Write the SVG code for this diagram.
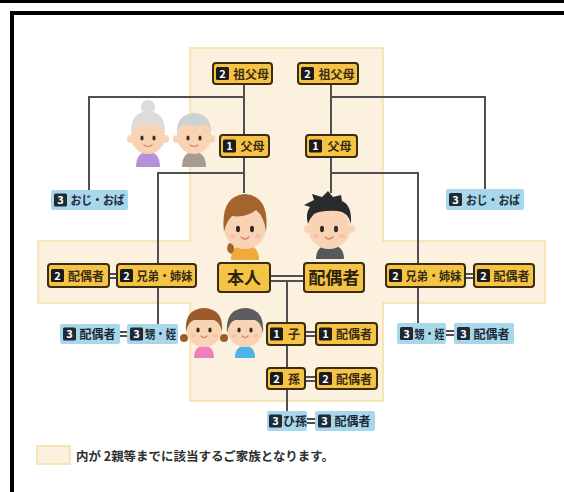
<svg xmlns="http://www.w3.org/2000/svg" width="564" height="492" viewBox="0 0 564 492">
  <style>
    .lbl { font-family: "Noto Sans CJK JP", "Noto Sans", sans-serif; font-weight: 700; }
    .yb { fill: #f5c445; stroke: #3a2b12; stroke-width: 2; }
    .bb { fill: #a8d7eb; }
    .badge { fill: #1b1b1b; }
    .bbadge { fill: #1e2a35; }
    .num { fill: #ffffff; font-size: 11px; text-anchor: middle; }
    .yt { fill: #3a2b12; font-size: 12px; text-anchor: middle; }
    .bt { fill: #1c2a36; font-size: 12px; text-anchor: middle; }
    .big { fill: #2e220d; font-size: 17px; text-anchor: middle; }
    .ln { fill: none; stroke: #4f4f4f; stroke-width: 2; }
    .skin { fill: #f8d3b4; }
    .eye { fill: #3a2a20; }
    .cheek { fill: #f6b6a4; opacity: 0.7; }
    .mouth { fill: none; stroke: #d9826a; stroke-width: 1.2; stroke-linecap: round; }
  </style>

  <!-- frame -->
  <rect x="0" y="0" width="564" height="3" fill="#000"/>
  <rect x="10" y="11" width="554" height="4" fill="#000"/>
  <rect x="10" y="11" width="4" height="481" fill="#000"/>

  <!-- area covered up to the 2nd degree -->
  <path d="M190,48 H383 V241 H545 V303 H383 V401 H190 V303 H38 V241 H190 Z" fill="#fcf1de" stroke="#f4dea6" stroke-width="1.5"/>

  <!-- connectors -->
  <g id="connectors" class="ln">
    <path d="M244,84 V135 M244,97 H89 V190 M244,157 V193 M244,173 H158 V324"/>
    <path d="M331,84 V135 M331,97 H485 V189 M331,157 V193 M331,173 H418 V323"/>
    <path d="M109,274 H117 M109,278 H117"/>
    <path d="M120,332 H127 M120,336 H127"/>
    <path d="M465,274 H474 M465,278 H474"/>
    <path d="M446,331 H454 M446,335 H454"/>
    <path d="M270,276 H304 M270,281 H304"/>
    <path d="M287,281 V411"/>
    <path d="M305,332 H316 M305,336 H316"/>
    <path d="M305,377 H316 M305,381 H316"/>
    <path d="M307,419 H315 M307,423 H315"/>
  </g>

  <!-- people -->
  <g id="grandmother">
    <path d="M136,167 Q136,152 148,152 Q160,152 160,167 Z" fill="#b592d8"/>
    <circle cx="131" cy="139" r="4" class="skin"/>
    <circle cx="165" cy="139" r="4" class="skin"/>
    <circle cx="148" cy="137" r="17" class="skin"/>
    <path d="M131,134 Q130,112 148,111 Q166,112 165,134 Q160,124 148,124 Q136,124 131,134 Z" fill="#dcdcdc"/>
    <circle cx="148" cy="107" r="7" fill="#dcdcdc"/>
    <ellipse cx="142" cy="138" rx="1.6" ry="2.6" class="eye"/>
    <ellipse cx="154" cy="138" rx="1.6" ry="2.6" class="eye"/>
    <path d="M144,145 Q148,148 152,145" class="mouth"/>
  </g>
  <g id="grandfather">
    <path d="M182,167 Q182,152 194,152 Q206,152 206,167 Z" fill="#a89b8f"/>
    <circle cx="177" cy="139" r="4" class="skin"/>
    <circle cx="211" cy="139" r="4" class="skin"/>
    <circle cx="194" cy="137" r="17" class="skin"/>
    <path d="M177,134 Q176,114 194,113 Q212,114 211,134 Q209,126 204,124 Q194,128 184,124 Q179,126 177,134 Z" fill="#cfd2d3"/>
    <ellipse cx="188" cy="138" rx="1.6" ry="2.6" class="eye"/>
    <ellipse cx="200" cy="138" rx="1.6" ry="2.6" class="eye"/>
    <path d="M190,145 Q194,148 198,145" class="mouth"/>
  </g>
  <g id="self-face">
    <path d="M231,260 Q231,245 245,245 Q259,245 259,260 Z" fill="#f2a93a"/>
    <path d="M229,243 Q224,250 231,254 Q236,250 233,244 Z" fill="#a3642e"/>
    <circle cx="245" cy="228" r="21" class="skin"/>
    <path d="M224,232 Q220,196 245,194 Q270,196 266,232 Q264,216 256,210 Q246,218 232,216 Q226,222 224,232 Z" fill="#a3642e"/>
    <ellipse cx="238" cy="229" rx="2" ry="3.2" class="eye"/>
    <ellipse cx="252" cy="229" rx="2" ry="3.2" class="eye"/>
    <ellipse cx="232" cy="236" rx="3" ry="2" class="cheek"/>
    <ellipse cx="258" cy="236" rx="3" ry="2" class="cheek"/>
    <path d="M241,237 Q245,241 249,237" class="mouth"/>
  </g>
  <g id="spouse-face">
    <path d="M316,259 Q316,245 330,245 Q344,245 344,259 Z" fill="#58585a"/>
    <circle cx="308" cy="229" r="4" class="skin"/>
    <circle cx="351" cy="229" r="4" class="skin"/>
    <circle cx="329" cy="228" r="21" class="skin"/>
    <path d="M308,224 Q305,214 310,207 L304,205 L314,200 L312,194 L322,197 L328,191 L333,197 L341,195 L342,201 Q352,205 351,224 Q348,212 338,211 Q322,210 314,214 Q310,218 308,224 Z" fill="#2a2a2c"/>
    <ellipse cx="322" cy="229" rx="2" ry="3.2" class="eye"/>
    <ellipse cx="336" cy="229" rx="2" ry="3.2" class="eye"/>
    <ellipse cx="316" cy="236" rx="3" ry="2" class="cheek"/>
    <ellipse cx="342" cy="236" rx="3" ry="2" class="cheek"/>
    <path d="M325,237 Q329,241 333,237" class="mouth"/>
  </g>
  <g id="girl">
    <path d="M194,358 Q194,346 204,346 Q214,346 214,358 Z" fill="#f07fc0"/>
    <circle cx="184" cy="338" r="4" fill="#9c5b2b"/>
    <circle cx="224" cy="338" r="4" fill="#9c5b2b"/>
    <circle cx="204" cy="329" r="18" class="skin"/>
    <path d="M186,332 Q184,309 204,308 Q224,309 222,332 Q220,322 214,320 L194,320 Q188,322 186,332 Z" fill="#9c5b2b"/>
    <ellipse cx="198" cy="330" rx="1.7" ry="2.6" class="eye"/>
    <ellipse cx="210" cy="330" rx="1.7" ry="2.6" class="eye"/>
    <ellipse cx="193" cy="336" rx="2.6" ry="1.8" class="cheek"/>
    <ellipse cx="215" cy="336" rx="2.6" ry="1.8" class="cheek"/>
    <path d="M201,336 Q204,339 207,336" class="mouth"/>
  </g>
  <g id="child">
    <path d="M235,358 Q235,346 245,346 Q255,346 255,358 Z" fill="#4fb2ea"/>
    <circle cx="245" cy="329" r="18" class="skin"/>
    <path d="M227,333 Q225,309 245,308 Q265,309 263,333 Q261,322 255,320 L235,320 Q229,322 227,333 Z" fill="#5b5d60"/>
    <ellipse cx="239" cy="330" rx="1.7" ry="2.6" class="eye"/>
    <ellipse cx="251" cy="330" rx="1.7" ry="2.6" class="eye"/>
    <ellipse cx="234" cy="336" rx="2.6" ry="1.8" class="cheek"/>
    <ellipse cx="256" cy="336" rx="2.6" ry="1.8" class="cheek"/>
    <path d="M242,336 Q245,339 248,336" class="mouth"/>
  </g>

  <!-- relatives within the 2nd degree (yellow) -->
  <g id="grandparents-self" class="lbl">
    <rect x="213" y="63" width="59" height="21" rx="3" class="yb"/>
    <rect x="216" y="67" width="13" height="13" rx="1.5" class="badge"/>
    <text x="222.5" y="77.5" class="num">2</text>
    <text x="251" y="78.5" class="yt">祖父母</text>
  </g>
  <g id="grandparents-spouse" class="lbl">
    <rect x="298" y="63" width="60" height="21" rx="3" class="yb"/>
    <rect x="301" y="67" width="13" height="13" rx="1.5" class="badge"/>
    <text x="307.5" y="77.5" class="num">2</text>
    <text x="336.5" y="78.5" class="yt">祖父母</text>
  </g>
  <g id="parents-self" class="lbl">
    <rect x="220" y="135" width="49" height="22" rx="3" class="yb"/>
    <rect x="223" y="139.5" width="13" height="13" rx="1.5" class="badge"/>
    <text x="229.5" y="150" class="num">1</text>
    <text x="252.5" y="151" class="yt">父母</text>
  </g>
  <g id="parents-spouse" class="lbl">
    <rect x="306" y="135" width="51" height="22" rx="3" class="yb"/>
    <rect x="309" y="139.5" width="13" height="13" rx="1.5" class="badge"/>
    <text x="315.5" y="150" class="num">1</text>
    <text x="339.5" y="151" class="yt">父母</text>
  </g>
  <g id="sibling-spouse-left" class="lbl">
    <rect x="48" y="264" width="61" height="23" rx="3" class="yb"/>
    <rect x="51" y="269" width="13" height="13" rx="1.5" class="badge"/>
    <text x="57.5" y="279.5" class="num">2</text>
    <text x="86" y="280.5" class="yt">配偶者</text>
  </g>
  <g id="siblings-left" class="lbl">
    <rect x="117" y="264" width="79" height="23" rx="3" class="yb"/>
    <rect x="120" y="269" width="13" height="13" rx="1.5" class="badge"/>
    <text x="126.5" y="279.5" class="num">2</text>
    <text x="164.5" y="280.5" class="yt" textLength="56" lengthAdjust="spacingAndGlyphs">兄弟・姉妹</text>
  </g>
  <g id="self" class="lbl">
    <rect x="218" y="263" width="52" height="29" rx="3" class="yb"/>
    <text x="244" y="284" class="big">本人</text>
  </g>
  <g id="spouse" class="lbl">
    <rect x="304" y="263" width="60" height="29" rx="3" class="yb"/>
    <text x="334" y="284" class="big">配偶者</text>
  </g>
  <g id="siblings-right" class="lbl">
    <rect x="386" y="264" width="79" height="23" rx="3" class="yb"/>
    <rect x="389" y="269" width="13" height="13" rx="1.5" class="badge"/>
    <text x="395.5" y="279.5" class="num">2</text>
    <text x="433.5" y="280.5" class="yt" textLength="56" lengthAdjust="spacingAndGlyphs">兄弟・姉妹</text>
  </g>
  <g id="sibling-spouse-right" class="lbl">
    <rect x="474" y="264" width="60" height="23" rx="3" class="yb"/>
    <rect x="477" y="269" width="13" height="13" rx="1.5" class="badge"/>
    <text x="483.5" y="279.5" class="num">2</text>
    <text x="511.5" y="280.5" class="yt">配偶者</text>
  </g>
  <g id="child-node" class="lbl">
    <rect x="267" y="323" width="38" height="22" rx="3" class="yb"/>
    <rect x="270" y="327.5" width="13" height="13" rx="1.5" class="badge"/>
    <text x="276.5" y="338" class="num">1</text>
    <text x="294" y="339" class="yt">子</text>
  </g>
  <g id="child-spouse" class="lbl">
    <rect x="316" y="323" width="61" height="22" rx="3" class="yb"/>
    <rect x="319" y="327.5" width="13" height="13" rx="1.5" class="badge"/>
    <text x="325.5" y="338" class="num">1</text>
    <text x="354" y="339" class="yt">配偶者</text>
  </g>
  <g id="grandchild" class="lbl">
    <rect x="267" y="368" width="38" height="21" rx="3" class="yb"/>
    <rect x="270" y="372" width="13" height="13" rx="1.5" class="badge"/>
    <text x="276.5" y="382.5" class="num">2</text>
    <text x="294" y="383.5" class="yt">孫</text>
  </g>
  <g id="grandchild-spouse" class="lbl">
    <rect x="316" y="368" width="61" height="21" rx="3" class="yb"/>
    <rect x="319" y="372" width="13" height="13" rx="1.5" class="badge"/>
    <text x="325.5" y="382.5" class="num">2</text>
    <text x="354" y="383.5" class="yt">配偶者</text>
  </g>

  <!-- 3rd degree relatives (blue) -->
  <g id="uncle-aunt-left" class="lbl">
    <rect x="51" y="190" width="77" height="20" rx="2" class="bb"/>
    <rect x="54" y="193.5" width="13" height="13" rx="1.5" class="bbadge"/>
    <text x="60.5" y="204" class="num">3</text>
    <text x="97.5" y="205" class="bt" textLength="54" lengthAdjust="spacingAndGlyphs">おじ・おば</text>
  </g>
  <g id="uncle-aunt-right" class="lbl">
    <rect x="446" y="189" width="78" height="21" rx="2" class="bb"/>
    <rect x="449" y="193" width="13" height="13" rx="1.5" class="bbadge"/>
    <text x="455.5" y="203.5" class="num">3</text>
    <text x="493" y="204.5" class="bt" textLength="54" lengthAdjust="spacingAndGlyphs">おじ・おば</text>
  </g>
  <g id="nephew-spouse-left" class="lbl">
    <rect x="60" y="324" width="60" height="20" rx="2" class="bb"/>
    <rect x="63" y="327.5" width="13" height="13" rx="1.5" class="bbadge"/>
    <text x="69.5" y="338" class="num">3</text>
    <text x="97.5" y="339" class="bt">配偶者</text>
  </g>
  <g id="nephew-left" class="lbl">
    <rect x="127" y="324" width="51" height="20" rx="2" class="bb"/>
    <rect x="130" y="327.5" width="13" height="13" rx="1.5" class="bbadge"/>
    <text x="136.5" y="338" class="num">3</text>
    <text x="160.5" y="339" class="bt" textLength="31" lengthAdjust="spacingAndGlyphs">甥・姪</text>
  </g>
  <g id="nephew-right" class="lbl">
    <rect x="397" y="323" width="49" height="21" rx="2" class="bb"/>
    <rect x="400" y="327" width="13" height="13" rx="1.5" class="bbadge"/>
    <text x="406.5" y="337.5" class="num">3</text>
    <text x="429.5" y="338.5" class="bt" textLength="30" lengthAdjust="spacingAndGlyphs">甥・姪</text>
  </g>
  <g id="nephew-spouse-right" class="lbl">
    <rect x="454" y="323" width="60" height="21" rx="2" class="bb"/>
    <rect x="457" y="327" width="13" height="13" rx="1.5" class="bbadge"/>
    <text x="463.5" y="337.5" class="num">3</text>
    <text x="491.5" y="338.5" class="bt">配偶者</text>
  </g>
  <g id="great-grandchild" class="lbl">
    <rect x="267" y="411" width="40" height="20" rx="2" class="bb"/>
    <rect x="269" y="414.5" width="13" height="13" rx="1.5" class="bbadge"/>
    <text x="275.5" y="425" class="num">3</text>
    <text x="295" y="426" class="bt">ひ孫</text>
  </g>
  <g id="great-grandchild-spouse" class="lbl">
    <rect x="315" y="411" width="60" height="20" rx="2" class="bb"/>
    <rect x="318" y="414.5" width="13" height="13" rx="1.5" class="bbadge"/>
    <text x="324.5" y="425" class="num">3</text>
    <text x="352.5" y="426" class="bt">配偶者</text>
  </g>

  <!-- legend -->
  <g id="legend" class="lbl">
    <rect x="37" y="446" width="33" height="18" fill="#fcf1de" stroke="#f4dea6" stroke-width="1.5"/>
    <text x="76" y="460.5" font-size="12.5" fill="#2f2f2f" textLength="258" lengthAdjust="spacingAndGlyphs">内が 2親等までに該当するご家族となります。</text>
  </g>
</svg>
